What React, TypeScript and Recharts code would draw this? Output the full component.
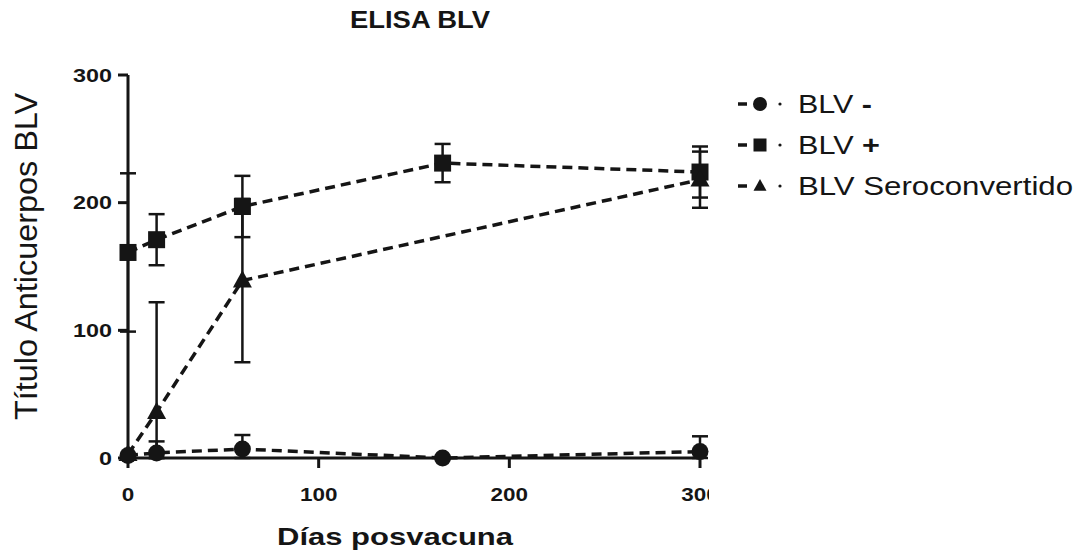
import React from 'react';
import { ComposedChart, Line, XAxis, YAxis, ErrorBar, Legend, Label } from 'recharts';

// días posvacuna y títulos medios (± DE)
const DAYS = [0, 15, 60, 165, 300];
const SERO_DAYS = [0, 15, 60, 300];

const NEG_TITER = [2, 4, 7, 0, 5];
const NEG_SD = [0, 9, 11, 0, 12];
const POS_TITER = [161, 171, 197, 231, 224];
const POS_SD = [62, 20, 24, 15, 20];
const SERO_TITER = [3, 36, 139, 218];
const SERO_SD = [0, 86, 64, 22];

const X_TICKS = [0, 100, 200, 300];
const Y_TICKS = [0, 100, 200, 300];

const SERIES_NAMES = ['BLV -', 'BLV +', 'BLV Seroconvertido'];

const INK = '#151515';
const FONT = '"Liberation Sans", Arial, sans-serif';

type Shape = 'circle' | 'square' | 'triangle';

const toRows = (days: number[], titer: number[], sd: number[]) =>
  days.map((d, i) => ({ day: d, titer: titer[i], err: [Math.min(sd[i], titer[i]), sd[i]] }));

const SERIES: { name: string; shape: Shape; rows: ReturnType<typeof toRows>; legendW: number }[] = [
  { name: SERIES_NAMES[0], shape: 'circle', rows: toRows(DAYS, NEG_TITER, NEG_SD), legendW: 74 },
  { name: SERIES_NAMES[1], shape: 'square', rows: toRows(DAYS, POS_TITER, POS_SD), legendW: 82 },
  { name: SERIES_NAMES[2], shape: 'triangle', rows: toRows(SERO_DAYS, SERO_TITER, SERO_SD), legendW: 275 },
];

function Marker({ shape, cx, cy, size }: { shape: Shape; cx: number; cy: number; size: number }) {
  if (shape === 'circle') return <circle cx={cx} cy={cy} r={size / 2} fill={INK} />;
  if (shape === 'square')
    return <rect x={cx - size / 2} y={cy - size / 2} width={size} height={size} fill={INK} />;
  const h = size * 0.9;
  return (
    <polygon
      points={`${cx},${cy - h * 0.6} ${cx - size / 2},${cy + h * 0.4} ${cx + size / 2},${cy + h * 0.4}`}
      fill={INK}
    />
  );
}

const YTick = ({ x, y, payload }: any) => {
  const label = String(payload.value);
  return (
    <text
      x={x}
      y={y + 6.5}
      textAnchor="end"
      fontFamily={FONT}
      fontWeight="bold"
      fontSize={18}
      fill={INK}
      textLength={label.length * 13}
      lengthAdjust="spacingAndGlyphs"
    >
      {label}
    </text>
  );
};

const XTick = ({ x, y, payload }: any) => {
  const label = String(payload.value);
  return (
    <g>
      <defs>
        <clipPath id={`xclip-${payload.value}`}>
          <rect x={0} y={0} width={709} height={557} />
        </clipPath>
      </defs>
      <text
        x={x}
        y={y + 31}
        textAnchor="middle"
        fontFamily={FONT}
        fontWeight="bold"
        fontSize={18}
        fill={INK}
        textLength={label.length * 12.5}
        lengthAdjust="spacingAndGlyphs"
        clipPath={`url(#xclip-${payload.value})`}
      >
        {label}
      </text>
    </g>
  );
};

const renderYLabel = () => (
  <text
    transform="translate(37,256.5) rotate(-90)"
    textAnchor="middle"
    fontFamily={FONT}
    fontSize={31}
    fill={INK}
    textLength={327}
    lengthAdjust="spacingAndGlyphs"
  >
    Título Anticuerpos BLV
  </text>
);

const renderXLabel = () => (
  <text
    x={395}
    y={545}
    textAnchor="middle"
    fontFamily={FONT}
    fontWeight="bold"
    fontSize={24}
    fill={INK}
    textLength={236}
    lengthAdjust="spacingAndGlyphs"
  >
    Días posvacuna
  </text>
);

const renderLegend = () => (
  <svg width={355} height={130} style={{ display: 'block' }}>
    {SERIES.map((s, i) => {
      const cy = 19 + i * 41;
      const m = s.name.match(/^(.*?)([+-])$/);
      return (
        <g key={s.name}>
          <line x1={8} x2={17} y1={cy} y2={cy} stroke={INK} strokeWidth={3.5} />
          <Marker shape={s.shape} cx={30} cy={cy} size={s.shape === 'circle' ? 14 : 13} />
          <circle cx={50} cy={cy} r={1.6} fill={INK} />
          <text
            x={68}
            y={cy + 9}
            fontFamily={FONT}
            fontSize={25}
            fill={INK}
            textLength={s.legendW}
            lengthAdjust="spacingAndGlyphs"
          >
            {m ? (
              <>
                {m[1]}
                <tspan fontWeight="bold">{m[2]}</tspan>
              </>
            ) : (
              s.name
            )}
          </text>
        </g>
      );
    })}
  </svg>
);

export default function App() {
  return (
    <div style={{ position: 'absolute', left: 0, top: 0, width: 1085, height: 557, background: '#fff' }}>
      <svg width={1085} height={40} style={{ position: 'absolute', left: 0, top: 0 }}>
        <text
          x={420}
          y={28}
          textAnchor="middle"
          fontFamily={FONT}
          fontWeight="bold"
          fontSize={24}
          fill={INK}
          textLength={140}
          lengthAdjust="spacingAndGlyphs"
        >
          ELISA BLV
        </text>
      </svg>
      <ComposedChart width={1085} height={557} margin={{ top: 75, right: 385, bottom: 59, left: 68 }}>
        <XAxis
          type="number"
          dataKey="day"
          domain={[0, 300]}
          ticks={X_TICKS}
          height={40}
          tickSize={10}
          axisLine={{ stroke: INK, strokeWidth: 3 }}
          tickLine={{ stroke: INK, strokeWidth: 3 }}
          tick={<XTick />}
        >
          <Label content={renderXLabel} />
        </XAxis>
        <YAxis
          type="number"
          domain={[0, 300]}
          ticks={Y_TICKS}
          width={60}
          tickSize={10}
          tickMargin={6}
          axisLine={{ stroke: INK, strokeWidth: 3 }}
          tickLine={{ stroke: INK, strokeWidth: 3 }}
          tick={<YTick />}
        >
          <Label content={renderYLabel} />
        </YAxis>
        <Legend
          layout="vertical"
          align="center"
          verticalAlign="middle"
          content={renderLegend}
          wrapperStyle={{ left: 730, top: 85, width: 355 }}
        />
        {SERIES.map((s) => (
          <Line
            key={s.name}
            name={s.name}
            data={s.rows}
            dataKey="titer"
            type="linear"
            stroke={INK}
            strokeWidth={3.5}
            strokeDasharray="10 6"
            isAnimationActive={false}
            dot={(p: any) => (
              <Marker
                key={`${s.shape}-${p.index}`}
                shape={s.shape}
                cx={p.cx}
                cy={p.cy}
                size={s.shape === 'triangle' ? 19 : 17}
              />
            )}
            activeDot={false}
          >
            <ErrorBar dataKey="err" width={8} stroke={INK} strokeWidth={2.5} isAnimationActive={false} />
          </Line>
        ))}
      </ComposedChart>
    </div>
  );
}
